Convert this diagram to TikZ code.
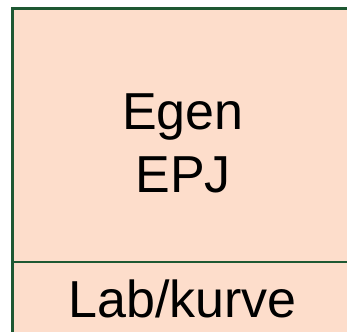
\documentclass[tikz,border=0pt]{standalone}
\usepackage{fontspec}
\setmainfont{Liberation Sans}
\definecolor{epj_fill}{RGB}{253,221,203}
\definecolor{epj_line}{RGB}{30,88,50}
\tikzstyle{cell}=[rectangle,fill=epj_fill,draw=epj_line,line width=2.2pt,
  inner sep=0pt,outer sep=0pt,minimum width=341pt]
\tikzstyle{word}=[inner sep=0pt,font=\fontsize{52}{62}\selectfont]

\begin{document}
\begin{tikzpicture}[x=1pt,y=1pt]
    \useasboundingbox (0,0) rectangle (347,331);
    \node [style=cell, minimum height=253.5pt, anchor=north west] (upper) at (12.5,322.5) {};
    \node [style=cell, minimum height=80pt, anchor=north west] (lower) at (upper.south west) {};
    \node [style=word, anchor=base] (egen) at (183,201) {Egen};
    \node [style=word, anchor=base] (epj) at (183,138) {EPJ};
    \node [style=word, anchor=base] (lab) at (182.5,13) {Lab/kurve};
  \end{tikzpicture}
\end{document}
